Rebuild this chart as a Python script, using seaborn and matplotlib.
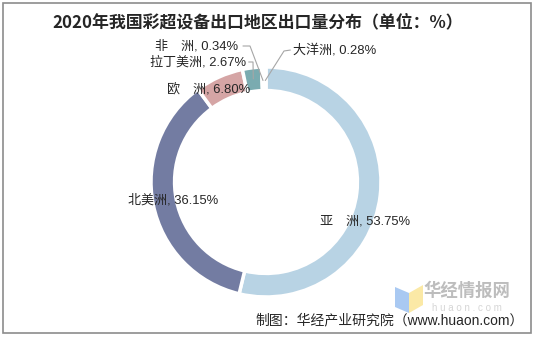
import matplotlib
matplotlib.use("Agg")
import matplotlib.pyplot as plt
import seaborn as sns
import numpy as np
from matplotlib.patches import Rectangle, Polygon

sns.set_theme(style="white")
plt.rcParams["font.family"] = ["Liberation Sans", "Noto Sans CJK SC", "DejaVu Sans"]

# Export share by region, 2020 (%)
regions = ["亚　洲", "北美洲", "欧　洲", "拉丁美洲", "非　洲", "大洋洲"]
shares = [53.75, 36.15, 6.80, 2.67, 0.34, 0.28]
colors = ["#b8d3e4", "#737ca2", "#d5a5a5", "#7aabb0", "#f2e49b", "#d9e6c4"]

W, H, DPI = 536, 337, 100
fig = plt.figure(figsize=(W / DPI, H / DPI), dpi=DPI)
fig.patch.set_facecolor("white")
ax = fig.add_axes([0, 0, 1, 1])

wedges, _ = ax.pie(
    shares, colors=colors, startangle=90, counterclock=False,
    radius=1.0, wedgeprops=dict(width=0.205, edgecolor="white", linewidth=2.5),
)

# one data unit = 115 px, ring centred at (266, 182) px from top-left
R = 115.0
cx, cy = 266.0, 182.0
ax.set_xlim(-cx / R, (W - cx) / R)
ax.set_ylim(-(H - cy) / R, cy / R)
ax.set_aspect("equal")
ax.axis("off")


def px(x, y):
    return (x - cx) / R, (cy - y) / R


def mid_point(w, r=0.9):
    a = np.deg2rad((w.theta1 + w.theta2) / 2)
    return r * np.cos(a), r * np.sin(a)


label_font = dict(fontsize=9.4, color="#262626")
labels = [f"{n}, {v:.2f}%" for n, v in zip(regions, shares)]

# large slices: plain labels
ax.text(*px(320, 222), labels[0], ha="left", va="center", **label_font)
ax.text(*px(218, 200), labels[1], ha="right", va="center", **label_font)
ax.text(*px(250, 89), labels[2], ha="right", va="center", **label_font)

# small slices: labels with leader lines
line_kw = dict(color="#a6a6a6", lw=0.8, solid_capstyle="butt")

tx, ty = px(246, 62)
ax.text(tx, ty, labels[3], ha="right", va="center", **label_font)
ex, ey = px(253, 62)
mx, my = mid_point(wedges[3], 0.9)
ax.plot([tx + 0.02, ex, mx], [ty, ey, my], **line_kw)

tx, ty = px(238, 46)
ax.text(tx, ty, labels[4], ha="right", va="center", **label_font)
ex, ey = px(250, 46)
mx, my = mid_point(wedges[4], 0.88)
ax.plot([tx + 0.04, ex, mx], [ty, ey, my], **line_kw)

tx, ty = px(293, 50)
ax.text(tx, ty, labels[5], ha="left", va="center", **label_font)
ex, ey = px(284, 51)
mx, my = mid_point(wedges[5], 0.88)
ax.plot([tx - 0.02, ex, mx], [ty, ey, my], **line_kw)

# title
fig.text(258 / W, 1 - 22 / H, "2020年我国彩超设备出口地区出口量分布（单位：%）",
         ha="center", va="center", fontsize=12.2, fontweight="bold",
         color="#262626", family=["Noto Sans CJK SC", "DejaVu Sans"])

# watermark logo
fig.patches.append(Polygon([(395 / W, 1 - 287 / H), (409 / W, 1 - 293 / H),
                            (409 / W, 1 - 313 / H), (395 / W, 1 - 307 / H)],
                           closed=True, transform=fig.transFigure,
                           facecolor="#a9c9f2", edgecolor="none"))
fig.patches.append(Polygon([(409 / W, 1 - 293 / H), (423 / W, 1 - 285 / H),
                            (423 / W, 1 - 305 / H), (409 / W, 1 - 313 / H)],
                           closed=True, transform=fig.transFigure,
                           facecolor="#fbe9a6", edgecolor="none"))
fig.text(467 / W, 1 - 291 / H, "华经情报网", ha="center", va="center",
         fontsize=12.5, fontweight="bold", color="#bdbdbd",
         family=["Noto Sans CJK SC", "DejaVu Sans"])
fig.text(467 / W, 1 - 308 / H, "h u a o n . c o m", ha="center", va="center",
         fontsize=7, color="#d6d6d6")

# source note
fig.text(524 / W, 1 - 320 / H, "制图：华经产业研究院（www.huaon.com）",
         ha="right", va="center", fontsize=10, color="#262626")

# outer frame
fig.patches.append(Rectangle((3 / W, 1 - 333 / H), 528 / W, 330 / H,
                             transform=fig.transFigure, fill=False,
                             edgecolor="#8c8c8c", linewidth=1.2))

fig.savefig("out.png", dpi=DPI, facecolor="white")
